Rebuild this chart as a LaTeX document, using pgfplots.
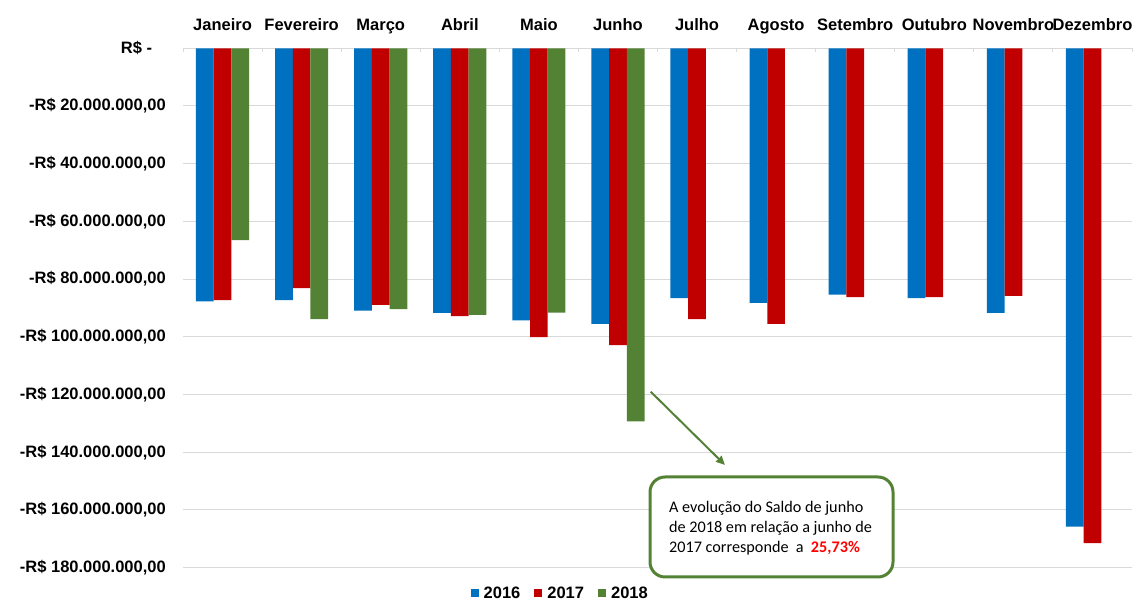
\documentclass[border=0pt]{standalone}
\usepackage{pgfplots}
\pgfplotsset{compat=1.18}
\usetikzlibrary{arrows.meta}
\usepackage{fontspec}
\setmainfont{Liberation Sans}
\newfontfamily\carlito{Carlito}
\definecolor{c16}{HTML}{0070C0}
\definecolor{c17}{HTML}{C00000}
\definecolor{c18}{HTML}{548235}
\definecolor{gridgray}{HTML}{D9D9D9}
\begin{document}
\begin{tikzpicture}[x=1bp,y=1bp]
\path[use as bounding box] (0,0) rectangle (1136,604);
\begin{axis}[
  at={(183bp,36.3bp)}, anchor=south west,
  scale only axis, width=949bp, height=519.4bp,
  ybar=0pt, bar width=0.224,
  xmin=-0.5, xmax=11.5, ymin=-180, ymax=0,
  axis line style={draw=none},
  ymajorgrids, grid style={draw=gridgray, line width=1bp},
  major tick length=0pt,
  xtick={0,...,11},
  xticklabels={Janeiro,Fevereiro,Março,Abril,Maio,Junho,Julho,Agosto,Setembro,Outubro,Novembro,Dezembro},
  xticklabel pos=right, xtick pos=right,
  extra x ticks={-0.5,0.5,...,11.5}, extra x tick labels={},
  extra x tick style={major tick length=4bp, tick align=inside, tick style={draw=gridgray, line width=1bp}},
  ytick={-180,-160,...,0},
  yticklabels={-R\$ 180.000.000{,}00,-R\$ 160.000.000{,}00,-R\$ 140.000.000{,}00,-R\$ 120.000.000{,}00,-R\$ 100.000.000{,}00,-R\$ 80.000.000{,}00,-R\$ 60.000.000{,}00,-R\$ 40.000.000{,}00,-R\$ 20.000.000{,}00,R\$ -\phantom{,0}},
  tick label style={font=\bfseries\fontsize{16.5bp}{19bp}\selectfont, inner sep=0pt},
  yticklabel style={anchor=east, xshift=-17bp},
  xticklabel style={anchor=base, yshift=18bp},
  legend style={at={(0.3975,-0.049)}, anchor=center, draw=none, fill=none,
    font=\bfseries\fontsize{16.5bp}{19bp}\selectfont,
    /tikz/every odd column/.append style={column sep=3bp},
    /tikz/every even column/.append style={column sep=12bp}},
  legend columns=3,
  legend image code/.code={\fill[#1] (0bp,-4bp) rectangle (8bp,4bp);},
]
% 2016
\addplot[fill=c16, draw=none] coordinates {
  (0,-87.7) (1,-87.3) (2,-90.9) (3,-91.7) (4,-94.3) (5,-95.5)
  (6,-86.6) (7,-88.2) (8,-85.4) (9,-86.6) (10,-91.7) (11,-165.8)};
% 2017
\addplot[fill=c17, draw=none] coordinates {
  (0,-87.3) (1,-83.1) (2,-88.9) (3,-92.8) (4,-100.1) (5,-102.9)
  (6,-93.9) (7,-95.5) (8,-86.2) (9,-86.2) (10,-85.8) (11,-171.5)};
% 2018
\addplot[fill=c18, draw=none] coordinates {
  (0,-66.5) (1,-93.9) (2,-90.4) (3,-92.4) (4,-91.6) (5,-129.3)};
\legend{2016,2017,2018}
\end{axis}
% caixa de comentario
\draw[c18, line width=2bp, -{Triangle[length=9bp,width=8bp]}] (650.7,212.3) -- (725,139);
\draw[c18, line width=3bp, rounded corners=15bp, fill=white] (650,27) rectangle (893,127);
\begin{scope}[every node/.style={anchor=base west, inner sep=0pt, font=\carlito\fontsize{16.2bp}{20bp}\selectfont}]
\node at (669,91.3) {A evolução do Saldo de junho};
\node at (669,71.3) {de 2018 em relação a junho de};
\node at (669,51.3) {2017 corresponde\ \ a\ \ \textcolor{red}{\bfseries 25,73\%}};
\end{scope}
\end{tikzpicture}
\end{document}
